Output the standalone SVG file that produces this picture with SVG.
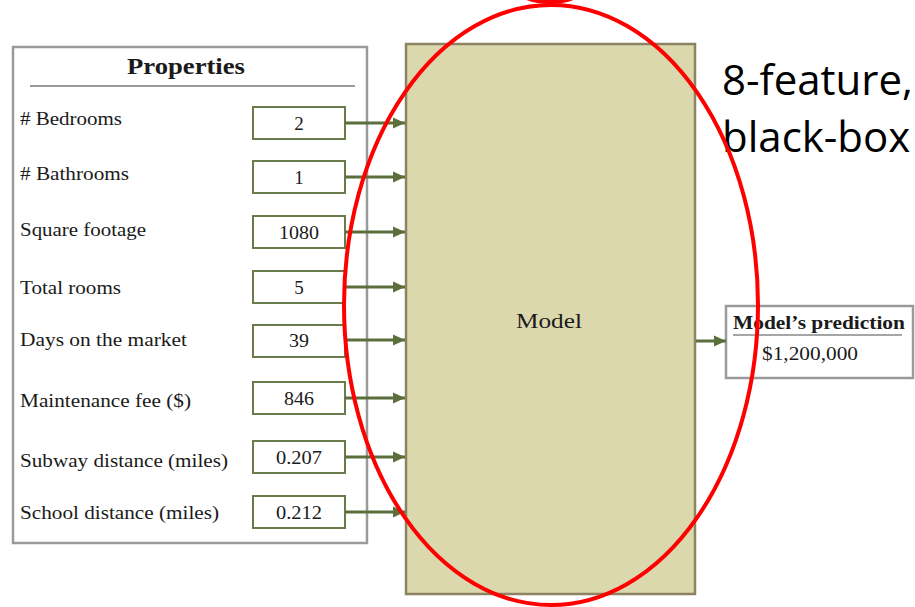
<svg xmlns="http://www.w3.org/2000/svg" width="915" height="607" viewBox="0 0 915 607">
<defs>
<marker id="ah" markerWidth="13" markerHeight="12" refX="12" refY="6" orient="auto" markerUnits="userSpaceOnUse">
<path d="M0,0.5 L12,6 L0,11.5 Z" fill="#5b6e3b"/>
</marker>
</defs>
<style>
.lbl{font-family:"Liberation Serif","DejaVu Serif",serif;font-size:19px;fill:#1a1a1a}
.val{font-family:"Liberation Serif","DejaVu Serif",serif;font-size:19px;fill:#1a1a1a;text-anchor:middle}
.vbox{fill:#fff;stroke:#6a7b4a;stroke-width:2}
.conn{stroke:#5b6e3b;stroke-width:3;fill:none;marker-end:url(#ah)}
.frame{fill:#fff;stroke:#9a9a9a;stroke-width:2.5}
.big{font-family:"Open Sans","Liberation Sans",sans-serif;font-size:42px;fill:#000}
</style>
<rect width="915" height="607" fill="#fff"/>
<g id="properties">
<rect class="frame" x="13" y="47" width="354" height="496"/>
<text x="186" y="74" class="val" style="font-weight:bold;font-size:23px" textLength="118" lengthAdjust="spacingAndGlyphs">Properties</text>
<line x1="30" y1="86" x2="355" y2="86" stroke="#999" stroke-width="2"/>
</g>
<g id="row-bedrooms"><text class="lbl" x="20" y="125" textLength="102" lengthAdjust="spacingAndGlyphs"># Bedrooms</text><rect class="vbox" x="253" y="107" width="92" height="32"/><text class="val" x="299" y="130">2</text></g>
<g id="row-bathrooms"><text class="lbl" x="20" y="180" textLength="109" lengthAdjust="spacingAndGlyphs"># Bathrooms</text><rect class="vbox" x="253" y="161" width="92" height="32"/><text class="val" x="299" y="184">1</text></g>
<g id="row-sqft"><text class="lbl" x="20" y="236" textLength="126" lengthAdjust="spacingAndGlyphs">Square footage</text><rect class="vbox" x="253" y="216" width="92" height="32"/><text class="val" x="299" y="239" textLength="40" lengthAdjust="spacingAndGlyphs">1080</text></g>
<g id="row-rooms"><text class="lbl" x="20" y="294" textLength="101" lengthAdjust="spacingAndGlyphs">Total rooms</text><rect class="vbox" x="253" y="271" width="92" height="32"/><text class="val" x="299" y="294">5</text></g>
<g id="row-days"><text class="lbl" x="20" y="346" textLength="167" lengthAdjust="spacingAndGlyphs">Days on the market</text><rect class="vbox" x="253" y="325" width="92" height="32"/><text class="val" x="299" y="347" textLength="20" lengthAdjust="spacingAndGlyphs">39</text></g>
<g id="row-fee"><text class="lbl" x="20" y="407" textLength="171" lengthAdjust="spacingAndGlyphs">Maintenance fee ($)</text><rect class="vbox" x="253" y="382" width="92" height="32"/><text class="val" x="299" y="405" textLength="30" lengthAdjust="spacingAndGlyphs">846</text></g>
<g id="row-subway"><text class="lbl" x="20" y="467" textLength="208" lengthAdjust="spacingAndGlyphs">Subway distance (miles)</text><rect class="vbox" x="253" y="441" width="92" height="32"/><text class="val" x="299" y="464" textLength="46" lengthAdjust="spacingAndGlyphs">0.207</text></g>
<g id="row-school"><text class="lbl" x="20" y="519" textLength="199" lengthAdjust="spacingAndGlyphs">School distance (miles)</text><rect class="vbox" x="253" y="496" width="92" height="32"/><text class="val" x="299" y="519" textLength="46" lengthAdjust="spacingAndGlyphs">0.212</text></g>
<g id="model">
<rect x="406" y="44" width="289" height="550" fill="#dcd8ae" stroke="#8c8362" stroke-width="2.5"/>
<text class="val" x="549" y="328" style="font-size:22px" textLength="66" lengthAdjust="spacingAndGlyphs">Model</text>
</g>
<g id="prediction">
<rect class="frame" x="726" y="306" width="187" height="72"/>
<text class="lbl" x="733" y="329" style="font-weight:bold" textLength="172" lengthAdjust="spacingAndGlyphs">Model’s prediction</text>
<line x1="733" y1="335" x2="902" y2="335" stroke="#888" stroke-width="1.5"/>
<text class="val" x="810" y="360" textLength="96" lengthAdjust="spacingAndGlyphs">$1,200,000</text>
</g>
<g id="connectors">
<line class="conn" x1="345" y1="123" x2="405" y2="123"/>
<line class="conn" x1="345" y1="177" x2="405" y2="177"/>
<line class="conn" x1="345" y1="232" x2="405" y2="232"/>
<line class="conn" x1="345" y1="287" x2="405" y2="287"/>
<line class="conn" x1="345" y1="340" x2="405" y2="340"/>
<line class="conn" x1="345" y1="398" x2="405" y2="398"/>
<line class="conn" x1="345" y1="457" x2="405" y2="457"/>
<line class="conn" x1="345" y1="512" x2="405" y2="512"/>
<line class="conn" x1="696" y1="341" x2="726" y2="341"/>
</g>
<g id="annotation">
<text class="big" x="722" y="95">8-feature,</text>
<text class="big" x="722" y="152">black-box</text>
<ellipse cx="551" cy="305" rx="207" ry="300" fill="none" stroke="#ff0000" stroke-width="4"/>
<ellipse cx="550" cy="-12" rx="33" ry="14" fill="none" stroke="#ff0000" stroke-width="4"/>
</g>
</svg>
